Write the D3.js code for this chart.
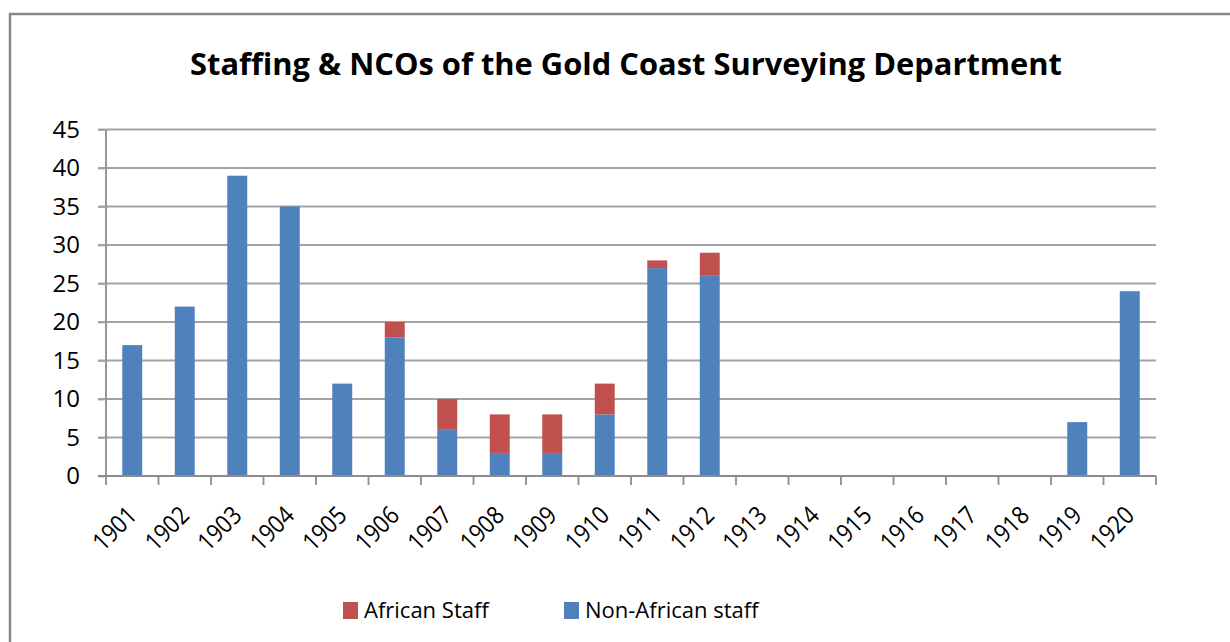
<!DOCTYPE html>
<html>
<head>
<meta charset="utf-8">
<script src="https://cdn.jsdelivr.net/npm/d3@7"></script>
<style>
    body { margin: 0; background: #fff; }
    svg text { font-family: "Open Sans", "Noto Sans", sans-serif; fill: #000; }
</style>
</head>
<body>
<svg id="chart" width="1230" height="642"></svg>
<script>
// Data
const years = ["1901", "1902", "1903", "1904", "1905", "1906", "1907", "1908", "1909", "1910",
    "1911", "1912", "1913", "1914", "1915", "1916", "1917", "1918", "1919", "1920"];
const nonAfricanStaff = [17, 22, 39, 35, 12, 18, 6, 3, 3, 8, 27, 26, 0, 0, 0, 0, 0, 0, 7, 24];
const africanStaff = [0, 0, 0, 0, 0, 2, 4, 5, 5, 4, 1, 3, 0, 0, 0, 0, 0, 0, 0, 0];
const yTicks = [0, 5, 10, 15, 20, 25, 30, 35, 40, 45];

const seriesNames = ["Non-African staff", "African Staff"];
const seriesColors = { "Non-African staff": "#4F81BD", "African Staff": "#C0504D" };
const legendOrder = ["African Staff", "Non-African staff"];

var svg = d3.select("#chart");

// outer frame (runs off the right and bottom edge)
svg.append("rect")
    .attr("x", 10).attr("y", 14)
    .attr("width", 1240).attr("height", 660)
    .attr("fill", "none")
    .attr("stroke", "#878787")
    .attr("stroke-width", 2.5);

// Title
svg.append("text")
    .attr("x", 626)
    .attr("y", 75)
    .attr("text-anchor", "middle")
    .attr("font-size", 31)
    .attr("font-weight", "bold")
    .attr("textLength", 872)
    .attr("lengthAdjust", "spacingAndGlyphs")
    .text("Staffing & NCOs of the Gold Coast Surveying Department");

var plot = { left: 106, right: 1156, top: 129.5, bottom: 476 };

var x = d3.scaleBand()
    .domain(years)
    .range([plot.left, plot.right])
    .paddingInner(0.62)
    .paddingOuter(0.31);

var y = d3.scaleLinear()
    .domain([0, 45])
    .range([plot.bottom, plot.top]);

// gridlines
svg.append("g")
    .selectAll("line")
    .data(yTicks.filter(d => d > 0))
    .enter()
    .append("line")
    .attr("x1", plot.left - 8)
    .attr("x2", plot.right)
    .attr("y1", d => y(d))
    .attr("y2", d => y(d))
    .attr("stroke", "#a3a3a3")
    .attr("stroke-width", 1.8);

// stacked bars
var table = years.map((yr, i) => ({ year: yr, "Non-African staff": nonAfricanStaff[i], "African Staff": africanStaff[i] }));
var stacked = d3.stack().keys(seriesNames)(table);

svg.append("g")
    .selectAll("g")
    .data(stacked)
    .enter()
    .append("g")
    .attr("fill", d => seriesColors[d.key])
    .selectAll("rect")
    .data(d => d.filter(p => p[1] > p[0]))
    .enter()
    .append("rect")
    .attr("x", d => x(d.data.year))
    .attr("width", x.bandwidth())
    .attr("y", d => y(d[1]))
    .attr("height", d => y(d[0]) - y(d[1]));

// y axis
var yAxis = svg.append("g")
    .attr("transform", "translate(" + plot.left + ",0)")
    .call(d3.axisLeft(y).tickValues(yTicks).tickSize(8).tickPadding(18));
yAxis.select(".domain").attr("stroke", "#8c8c8c").attr("stroke-width", 1.8).attr("d", "M0," + plot.top + "V" + plot.bottom);
yAxis.selectAll(".tick line").attr("stroke", "#a3a3a3").attr("stroke-width", 1.8);
yAxis.selectAll(".tick text").attr("font-size", 24).attr("fill", "#000");

// x axis with ticks on category boundaries
var xAxis = svg.append("g");
xAxis.append("line")
    .attr("x1", plot.left - 8).attr("x2", plot.right)
    .attr("y1", plot.bottom).attr("y2", plot.bottom)
    .attr("stroke", "#8c8c8c").attr("stroke-width", 1.8);
xAxis.selectAll("line.tk")
    .data(d3.range(years.length + 1))
    .enter()
    .append("line")
    .attr("class", "tk")
    .attr("x1", i => plot.left + i * (plot.right - plot.left) / years.length)
    .attr("x2", i => plot.left + i * (plot.right - plot.left) / years.length)
    .attr("y1", plot.bottom)
    .attr("y2", plot.bottom + 9)
    .attr("stroke", "#8c8c8c").attr("stroke-width", 1.8);

xAxis.selectAll("text")
    .data(years)
    .enter()
    .append("text")
    .attr("transform", d => "translate(" + (x(d) + x.bandwidth() / 2 + 6) + "," + (plot.bottom + 41) + ") rotate(-45)")
    .attr("text-anchor", "end")
    .attr("font-size", 25)
    .attr("textLength", 50)
    .attr("lengthAdjust", "spacingAndGlyphs")
    .text(d => d);

// legend
var legendX = [343, 564];
legendOrder.forEach((d, i) => {
    svg.append("rect")
        .attr("x", legendX[i])
        .attr("y", 602)
        .attr("width", 15)
        .attr("height", 17)
        .attr("fill", seriesColors[d]);
    svg.append("text")
        .attr("x", legendX[i] + 21)
        .attr("y", 618)
        .attr("font-size", 22)
        .text(d);
});
</script>
</body>
</html>
